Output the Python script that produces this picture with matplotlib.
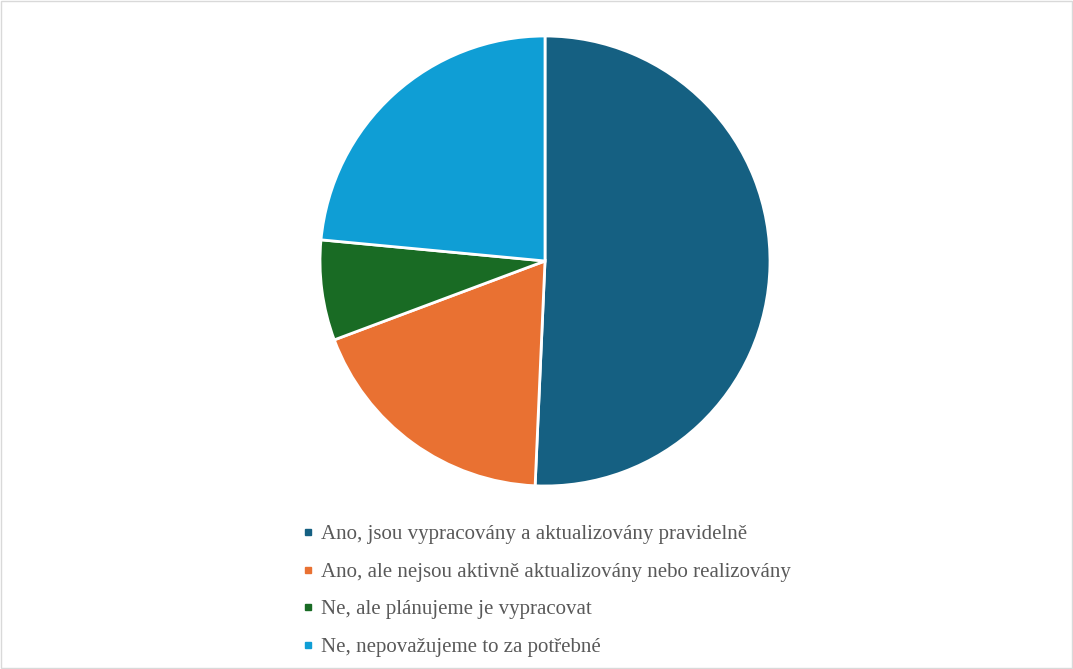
import matplotlib.pyplot as plt
from matplotlib.lines import Line2D
from matplotlib.patches import Rectangle

labels = ['Ano, jsou vypracovány a aktualizovány pravidelně',
          'Ano, ale nejsou aktivně aktualizovány nebo realizovány',
          'Ne, ale plánujeme je vypracovat',
          'Ne, nepovažujeme to za potřebné']
values = [50.7, 18.6, 7.2, 23.5]
colors = ['#156082', '#E97132', '#196B24', '#0F9ED5']

plt.rcParams['font.family'] = 'serif'
plt.rcParams['font.serif'] = ['Liberation Serif', 'DejaVu Serif']

fig = plt.figure(figsize=(10.73, 6.69), dpi=100)
ax = fig.add_axes([320 / 1073, 183 / 669, 450 / 1073, 450 / 669])
ax.pie(values, colors=colors, startangle=90, counterclock=False,
       wedgeprops=dict(edgecolor='white', linewidth=2))
ax.set_xlim(-1, 1)
ax.set_ylim(-1, 1)
ax.set_aspect('equal')

# рамка вокруг графика
fig.patches.append(Rectangle((1 / 1073, 1 / 669), 1071 / 1073, 667 / 669,
                             transform=fig.transFigure, fill=False,
                             edgecolor='#d9d9d9', linewidth=1))

handles = [Line2D([], [], marker='s', linestyle='none', markersize=4.5,
                  markerfacecolor=c, markeredgecolor=c) for c in colors]
fig.legend(handles, labels, loc='upper left', bbox_to_anchor=(281 / 1073, 1 - 506 / 669),
           frameon=False, fontsize=15, labelcolor='#595959', handletextpad=0.2,
           labelspacing=0.86, handlelength=0.8)

fig.savefig('out.png', dpi=100)
